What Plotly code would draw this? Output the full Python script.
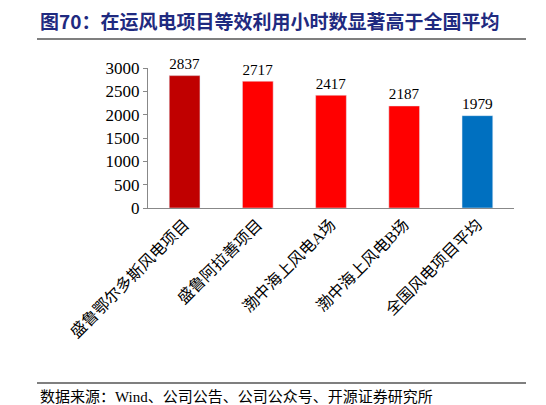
import plotly.graph_objects as go

categories = ["盛鲁鄂尔多斯风电项目", "盛鲁阿拉善项目", "渤中海上风电A场", "渤中海上风电B场", "全国风电项目平均"]
values = [2837, 2717, 2417, 2187, 1979]
colors = ["#C00000", "#FF0000", "#FF0000", "#FF0000", "#0070C0"]
yticks = [0, 500, 1000, 1500, 2000, 2500, 3000]

F = "Liberation Serif, Noto Sans CJK SC"
L, T, W, H = 140, 60, 366, 140
def px(x): return (x - L) / W
def py(y): return (T + H - y) / H

fig = go.Figure(go.Bar(x=categories, y=values, marker_color=colors, width=0.42,
                       text=[str(v) for v in values], textposition="outside",
                       textfont=dict(family=F, size=17, color="black"), cliponaxis=False))
fig.update_layout(
    width=546, height=405, plot_bgcolor="white", paper_bgcolor="white",
    margin=dict(l=L, r=546 - L - W, t=T, b=405 - T - H, autoexpand=False), showlegend=False,
    font=dict(family=F, size=16, color="black"),
    xaxis=dict(tickangle=-45, showline=True, linecolor="#888", tickfont=dict(size=16)),
    yaxis=dict(range=[0, 3000], tickvals=yticks, showline=True, linecolor="#888",
               ticks="outside", ticklen=4, tickcolor="#888", showgrid=False,
               tickfont=dict(size=17)),
    annotations=[
        dict(text="<b>图70：在运风电项目等效利用小时数显著高于全国平均</b>", xref="paper", yref="paper",
             x=px(30), xanchor="left", y=py(28), yanchor="bottom", showarrow=False,
             font=dict(size=19, color="#1F2A80", family="Noto Sans CJK SC")),
        dict(text="数据来源：Wind、公司公告、公司公众号、开源证券研究所", xref="paper", yref="paper",
             x=px(30), xanchor="left", y=py(379), yanchor="top", showarrow=False,
             font=dict(size=15, color="black")),
    ],
    shapes=[
        dict(type="line", xref="paper", yref="paper", layer="above", x0=px(29), x1=px(518), y0=py(31), y1=py(31), line=dict(color="black", width=1.2)),
        dict(type="line", xref="paper", yref="paper", layer="above", x0=px(29), x1=px(518), y0=py(375), y1=py(375), line=dict(color="black", width=1.2)),
    ],
)
fig.write_html("out.html")
